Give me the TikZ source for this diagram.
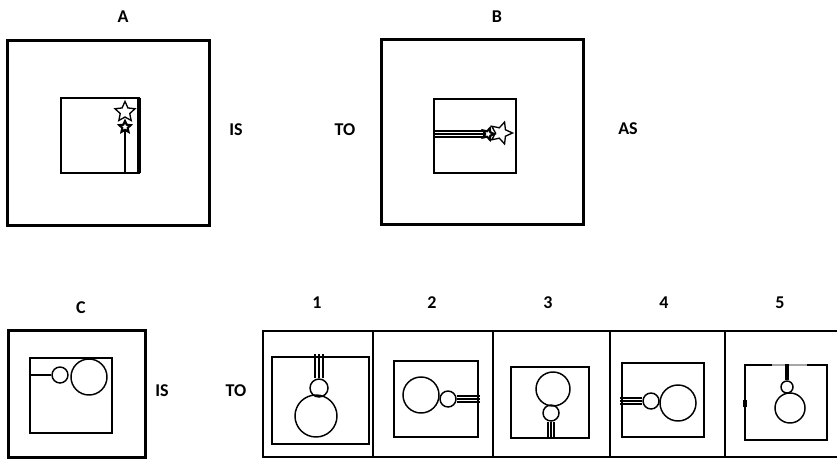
\documentclass[tikz,border=0pt]{standalone}
\usepackage{fontspec}
\setmainfont{Carlito}
\usetikzlibrary{shapes.geometric}

\tikzset{
  outerbox/.style={line width=2.25pt},
  innerbox/.style={line width=1.5pt},
  stripline/.style={line width=1.5pt},
  ring/.style={circle, draw, line width=1.1pt, inner sep=0pt, minimum size=#1*1.5pt},
  rodline/.style={line width=0.9pt},
  twinkle/.style={star, star points=5, star point ratio=2.1, draw, inner sep=0pt, line width=1pt, minimum size=#1*0.75pt},
  lbl/.style={font=\fontsize{13.5}{15}\selectfont\bfseries, inner sep=0pt}
}

\begin{document}
\begin{tikzpicture}[x=0.75pt,y=0.75pt,yscale=-1,xscale=1]
 \useasboundingbox (0,0) rectangle (837,459);

 %Figure A
 \draw [outerbox] (7,41) rectangle (209,226);
 \draw [innerbox] (61,98) rectangle (139,173);
 \draw [line width=2.4pt] (139,98) -- (139,173);
 \node [twinkle=21] (starA) at (125,112) {};
 \node [twinkle=12, line width=1.6pt] (starAs) at (125,127) {};
 \coordinate (baseA) at (125,173);
 \draw [line width=1.1pt] (baseA) -- (starAs.south);

 %Figure B
 \draw [outerbox] (381,40) rectangle (583,225);
 \draw [innerbox] (434,99) rectangle (516,173);
 \node [twinkle=12, line width=1.6pt, shape border rotate=-90] (starBs) at (488,134) {};
 \node [twinkle=23, shape border rotate=-90] (starB) at (501,133) {};
 \coordinate (baseB) at (434,134);
 \foreach \d in {-3,0,3}
   \draw [rodline] ([yshift=\d*0.75pt]baseB) -- ([yshift=\d*0.75pt]starBs.west);

 %Figure C
 \draw [outerbox] (8,330) rectangle (145,457);
 \draw [innerbox] (30,358) rectangle (112,433);
 \node [ring=8] (smallC) at (60,375) {};
 \node [ring=18] (bigC) at (89,377) {};
 \coordinate (baseC) at (30,375);
 \draw [line width=1.1pt] (baseC) -- (smallC.west);

 %Answer strip
 \draw [stripline] (837,331) -- (263,331) -- (263,457) -- (837,457);
 \foreach \xd in {373,493,610,725}
   \draw [stripline] (\xd,331) -- (\xd,457);

 %Option 1
 \draw [innerbox] (272,357) rectangle (369,444);
 \node [ring=9] (small1) at (319,388) {};
 \node [ring=21] (big1) at (316,416) {};
 \coordinate (base1) at (319,354);
 \foreach \d in {-4,0,4}
   \draw [rodline] ([xshift=\d*0.75pt]base1) -- ([xshift=\d*0.75pt]small1.north);

 %Option 2
 \draw [innerbox] (394,361) rectangle (478,437);
 \node [ring=18] (big2) at (421,395) {};
 \node [ring=8] (small2) at (448,399) {};
 \coordinate (base2) at (480,399);
 \foreach \d in {-3,0,3}
   \draw [rodline] ([yshift=\d*0.75pt]base2) -- ([yshift=\d*0.75pt]small2.east);

 %Option 3
 \draw [innerbox] (511,367) rectangle (589,438);
 \node [ring=17] (big3) at (553,389) {};
 \node [ring=8] (small3) at (551,413) {};
 \coordinate (base3) at (551,439);
 \foreach \d in {-3,0,3}
   \draw [rodline] ([xshift=\d*0.75pt]base3) -- ([xshift=\d*0.75pt]small3.south);

 %Option 4
 \draw [innerbox] (622,363) rectangle (704,437);
 \node [ring=8] (small4) at (651,401) {};
 \node [ring=18] (big4) at (678,403) {};
 \coordinate (base4) at (620,401);
 \foreach \d in {-3,0,3}
   \draw [rodline] ([yshift=\d*0.75pt]base4) -- ([yshift=\d*0.75pt]small4.west);

 %Option 5
 \draw [innerbox] (772,365) -- (745,365) -- (745,440) -- (827,440) -- (827,365) -- (807,365);
 \draw [line width=0.8pt, gray!70] (772,365) -- (807,365);
 \draw [line width=2.4pt] (745,400) -- (745,407);
 \node [ring=6] (small5) at (787,387) {};
 \node [ring=15] (big5) at (790,408) {};
 \coordinate (base5) at (787,364);
 \draw [line width=2.4pt] (base5) -- (small5.north);

 % Text Node
 \node [lbl] (labA) at (123,17) {A};
 \node [lbl] (labB) at (497,17) {B};
 \node [lbl] (isA) at (236,130) {IS};
 \node [lbl] (toB) at (345,130) {TO};
 \node [lbl] (asB) at (628,129) {AS};
 \node [lbl] (labC) at (81,308) {C};
 \node [lbl] (isC) at (162,391) {IS};
 \node [lbl] (toC) at (236,391) {TO};
 \node [lbl] (opt1) at (317,303) {1};
 \node [lbl] (opt2) at (432,303) {2};
 \node [lbl] (opt3) at (548,303) {3};
 \node [lbl] (opt4) at (664,303) {4};
 \node [lbl] (opt5) at (780,303) {5};
\end{tikzpicture}
\end{document}
